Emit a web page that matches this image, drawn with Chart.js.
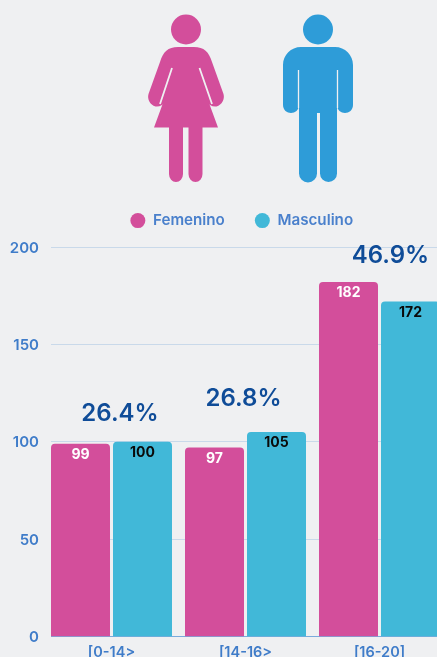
<!DOCTYPE html>
<html><head><meta charset="utf-8">
<style>
html,body{margin:0;padding:0;background:#eff0f2;width:437px;height:657px;overflow:hidden}
#wrap{position:absolute;left:0;top:182px;width:482px;height:475px}
canvas{display:block}
svg{position:absolute;left:0;top:0}
</style>
<script src="https://cdn.jsdelivr.net/npm/chart.js@4"></script>
</head><body>
<svg width="437" height="200" viewBox="0 0 437 200">
 <g fill="#d34e9b">
  <circle cx="186" cy="29.5" r="15"/>
  <path d="M178 47H194C204 47 209 52 212 62L223.500 94C225 99 222 105 216.500 106.500C212 107 209 105 207.500 101L198 73 218 127.500H202.500V174A7 8 0 0 1 188.500 174V127.500H183V174A7 8 0 0 1 169 174V127.500H154L174 73 164.500 101C163 105 160 107 155.500 106.500C150 105 147 99 148.500 94L160 62C163 52 168 47 178 47Z"/>
 </g>
 <path d="M172 68 160 104M199.500 68 212 104" stroke="#eff0f2" stroke-width="1.800" fill="none"/>
 <g fill="#2e9cd8">
  <circle cx="318" cy="29.500" r="15"/>
  <path d="M301 47H335C345 47 353 55 353 65V105C353 110 349 113 345 113C341 113 337 110 337 105V173.500A8.500 8.500 0 0 1 320 173.500V113H317V173.500A9 9 0 0 1 299 173.500V105C299 110 295 113 291 113C287 113 283 110 283 105V65C283 55 291 47 301 47Z"/>
 </g>
 <path d="M298.500 70V108M337.500 70V108" stroke="#eff0f2" stroke-width="1.300" fill="none"/>
</svg>
<div id="wrap"><canvas id="c" width="482" height="475"></canvas></div>
<script>
const categories = ["[0-14>", "[14-16>", "[16-20]"];
const femenino = [99, 97, 182];
const masculino = [100, 105, 172];
const shares = ["26.4%", "26.8%", "46.9%"];
const yTicks = [0, 50, 100, 150, 200];

const FONT = "Inter, 'Open Sans', sans-serif";

const legendPlace = {
  id: "legendPlace",
  beforeInit(chart) {
    const legend = chart.legend;
    const fit = legend.fit;
    legend.fit = function () { fit.call(this); this.height = 65; };
    const draw = legend.draw;
    legend.draw = function () {
      chart.ctx.save();
      chart.ctx.translate(18.5, 1);
      draw.call(this);
      chart.ctx.restore();
    };
  }
};

const labelsPlugin = {
  id: "labelsPlugin",
  beforeDatasetsDraw(chart) {
    const { ctx, chartArea, scales } = chart;
    ctx.save();
    ctx.lineWidth = 1;
    yTicks.forEach(v => {
      const py = Math.floor(scales.y.getPixelForValue(v)) + 0.5;
      ctx.strokeStyle = v === 0 ? "#7aabdc" : "#c9d9ea";
      ctx.beginPath();
      ctx.moveTo(51, py);
      ctx.lineTo(chartArea.right, py);
      ctx.stroke();
      ctx.fillStyle = "#3f7cc9";
      ctx.font = "600 15px " + FONT;
      ctx.textAlign = "right";
      ctx.textBaseline = "middle";
      ctx.fillText(v, 39, scales.y.getPixelForValue(v) + 1);
    });
    ctx.restore();
  },
  afterDatasetsDraw(chart) {
    const { ctx, scales } = chart;
    ctx.save();
    ctx.textAlign = "center";
    ctx.textBaseline = "middle";
    ctx.font = "700 14px " + FONT;
    chart.data.datasets.forEach((ds, i) => {
      const meta = chart.getDatasetMeta(i);
      ctx.fillStyle = i === 0 ? "#ffffff" : "#0a0a0a";
      meta.data.forEach((bar, k) => {
        ctx.fillText(ds.data[k], bar.x, bar.y + 11);
      });
    });
    const dx = [8.5, -2, 11];
    const dy = [28, 33, 26];
    ctx.font = "600 24px " + FONT;
    ctx.fillStyle = "#0f4c98";
    shares.forEach((s, k) => {
      const top = Math.max(femenino[k], masculino[k]);
      ctx.fillText(s, scales.x.getPixelForValue(k) + dx[k], scales.y.getPixelForValue(top) - dy[k]);
    });
    ctx.restore();
  }
};

new Chart(document.getElementById("c"), {
  type: "bar",
  plugins: [legendPlace, labelsPlugin],
  data: {
    labels: categories,
    datasets: [
      { label: "Femenino", data: femenino, backgroundColor: "#d34e9b", borderRadius: { topLeft: 4, topRight: 4 }, borderSkipped: "bottom",
        categoryPercentage: 0.9254, barPercentage: 0.9516 },
      { label: "Masculino", data: masculino, backgroundColor: "#41b8d8", borderRadius: { topLeft: 4, topRight: 4 }, borderSkipped: "bottom",
        categoryPercentage: 0.9254, barPercentage: 0.9516 }
    ]
  },
  options: {
    responsive: false,
    animation: false,
    layout: { padding: { left: 0, right: 35.5, top: 0, bottom: 0 } },
    plugins: {
      tooltip: { enabled: false },
      legend: {
        position: "top",
        align: "center",
        labels: { usePointStyle: true, pointStyle: "circle", boxWidth: 15, boxHeight: 10.6, padding: 30,
          color: "#4a80cc", font: { family: FONT, size: 15.2, weight: "600" } }
      }
    },
    scales: {
      x: {
        afterFit(s) { s.height = 20.5; },
        grid: { display: false, drawTicks: false },
        border: { display: false },
        ticks: { color: "#3f7cc9", padding: 7, maxRotation: 0, autoSkip: false, font: { family: FONT, size: 14.5, weight: "600" } }
      },
      y: {
        min: 0, max: 200,
        afterBuildTicks(s) { s.ticks = yTicks.map(v => ({ value: v })); },
        afterFit(s) { s.width = 44.5; },
        grid: { display: false, drawTicks: false },
        border: { display: false },
        ticks: { display: false }
      }
    }
  }
});
</script>
</body></html>
